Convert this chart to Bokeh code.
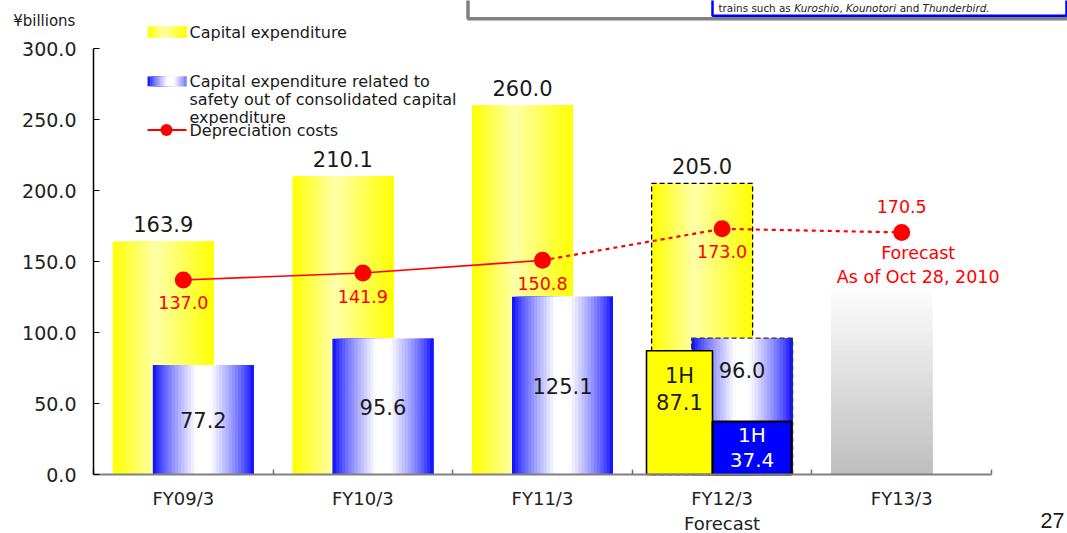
import numpy as np
from bokeh.plotting import figure
from bokeh.models import Range1d, FixedTicker
from bokeh.core.properties import value
from bokeh.embed import file_html
from bokeh.resources import INLINE

# ---------------- data ----------------
categories = ["FY09/3", "FY10/3", "FY11/3", "FY12/3", "FY13/3"]
category_labels = ["FY09/3", "FY10/3", "FY11/3", "FY12/3\nForecast", "FY13/3"]
capex = [163.9, 210.1, 260.0, 205.0]            # Capital expenditure (FY09/3 - FY12/3)
safety_capex = [77.2, 95.6, 125.1, 96.0]        # Safety-related capital expenditure
capex_1h = 87.1                                 # FY12/3 first half capex
safety_1h = 37.4                                # FY12/3 first half safety capex
depreciation = [137.0, 141.9, 150.8, 173.0, 170.5]
fy13_placeholder = 135.0                        # grey placeholder bar for FY13/3
y_ticks = [0, 50, 100, 150, 200, 250, 300]
y_tick_labels = ["0.0", "50.0", "100.0", "150.0", "200.0", "250.0", "300.0"]

# ---------------- layout helpers ----------------
W, H = 1067, 533
FL, FB = 93, 474          # y-axis / x-axis pixel positions
UX, UY = 179.6, 1.42      # pixels per category, pixels per unit


def X(px):
    return (px - FL) / UX


def Y(py):
    return (FB - py) / UY


def dx(px):
    return px / UX


def dy(px):
    return px / UY


FONT = "DejaVu Sans"
RED = "#ff0000"

p = figure(width=W, height=H, output_backend="svg", toolbar_location=None, title=None,
           x_range=Range1d(X(0), X(W)), y_range=Range1d(Y(H), Y(0)),
           min_border_left=0, min_border_right=0, min_border_top=0, min_border_bottom=0,
           outline_line_color=None, background_fill_color="white", border_fill_color="white")
p.xgrid.visible = False
p.ygrid.visible = False

# axes (drawn inside the frame at data 0)
centers = np.arange(len(categories)) + 0.5
xa = p.xaxis[0]
xa.fixed_location = 0
xa.ticker = FixedTicker(ticks=list(centers), minor_ticks=list(range(len(categories) + 1)))
xa.major_label_overrides = {float(c): lab for c, lab in zip(centers, category_labels)}
xa.bounds = (0, len(categories))
xa.major_tick_line_color = None
xa.major_tick_in = 0
xa.major_tick_out = 0
xa.minor_tick_in = 5
xa.minor_tick_out = 0
xa.minor_tick_line_color = "#707070"
xa.minor_tick_line_width = 1.5
xa.axis_line_color = "#808080"
xa.axis_line_width = 2
xa.major_label_text_font = FONT
xa.major_label_text_font_size = "18px"
xa.major_label_text_color = "#222222"
xa.major_label_standoff = 13

ya = p.yaxis[0]
ya.fixed_location = 0
ya.ticker = FixedTicker(ticks=y_ticks, minor_ticks=[])
ya.major_label_overrides = {t: lab for t, lab in zip(y_ticks, y_tick_labels)}
ya.bounds = (0, 300)
ya.axis_line_color = "black"
ya.axis_line_width = 1.5
ya.major_tick_in = 6
ya.major_tick_out = 0
ya.major_tick_line_color = "black"
ya.major_tick_line_width = 1.2
ya.minor_tick_line_color = None
ya.major_label_text_font = FONT
ya.major_label_text_font_size = "19px"
ya.major_label_text_color = "#222222"
ya.major_label_standoff = 17


# ---------------- colour ramps ----------------
def yellow_c(t):
    peak = 0.42
    l = 1 - (abs(t - peak) / (peak if t < peak else 1 - peak))
    b = int(round(170 * max(0.0, l) ** 1.0))
    return "#ffff%02x" % b


def blue_c(t):
    l = 1 - abs(t - 0.5) / 0.5
    w = int(round(255 * min(1.0, 1.12 * max(0.0, l) ** 0.75)))
    return "#%02x%02xff" % (w, w)


def hstrips(acc, left, right, bottom, top, cfn, n=32):
    for i in range(n):
        acc["left"].append(left + (right - left) * i / n)
        acc["right"].append(right)
        acc["bottom"].append(bottom)
        acc["top"].append(top)
        acc["color"].append(cfn((i + 0.5) / n))


def new_acc():
    return {"left": [], "right": [], "bottom": [], "top": [], "color": []}


BW = dx(101)
OFF = dx(20)

# capex bars (yellow)
yel = new_acc()
for i, v in enumerate(capex):
    c = centers[i] - OFF
    hstrips(yel, c - BW / 2, c + BW / 2, 0, v, yellow_c)
p.quad(left=yel["left"], right=yel["right"], bottom=yel["bottom"], top=yel["top"],
       fill_color=yel["color"], line_color=None)

# FY12/3 forecast outline (dashed)
i12 = 3
c12y = centers[i12] - OFF
p.quad(left=[c12y - BW / 2], right=[c12y + BW / 2], bottom=[0], top=[capex[i12]],
       fill_color=None, line_color="black", line_dash="5 3", line_width=1.3)

# safety bars (blue)
blu = new_acc()
for i, v in enumerate(safety_capex):
    c = centers[i] + OFF
    hstrips(blu, c - BW / 2, c + BW / 2, 0, v, blue_c)
p.quad(left=blu["left"], right=blu["right"], bottom=blu["bottom"], top=blu["top"],
       fill_color=blu["color"], line_color=None)
c12b = centers[i12] + OFF
p.quad(left=[c12b - BW / 2], right=[c12b + BW / 2], bottom=[0], top=[safety_capex[i12]],
       fill_color=None, line_color="#333333", line_dash="5 3", line_width=1.3)

# FY12/3 first-half boxes
p.quad(left=[centers[i12] - dx(75.6)], right=[centers[i12] - dx(9.6)], bottom=[0], top=[capex_1h],
       fill_color="#ffff00", line_color="black", line_width=1.6)
p.quad(left=[centers[i12] - dx(9.6)], right=[centers[i12] + dx(69.4)], bottom=[0], top=[safety_1h],
       fill_color="#0000ff", line_color="black", line_width=2)

# FY13/3 grey placeholder bar (vertical gradient)
n = 40
cg = centers[4] - OFF
gl, gr, gb, gt, gc = [], [], [], [], []
for i in range(n):
    gl.append(cg - BW / 2)
    gr.append(cg + BW / 2)
    gb.append(0)
    gt.append(fy13_placeholder * (1 - i / n))
    h = 1 - (i + 0.5) / n
    g = int(round(0xbe + (0xff - 0xbe) * h))
    gc.append("#%02x%02x%02x" % (g, g, g))
p.quad(left=gl, right=gr, bottom=gb, top=gt, fill_color=gc, line_color=None)

# depreciation line
p.line(centers[:3], depreciation[:3], line_color=RED, line_width=1.6)
p.line(centers[2:], depreciation[2:], line_color=RED, line_width=2.2, line_dash="4 4")
p.scatter(centers, depreciation, marker="circle", size=17, fill_color=RED, line_color=None)

# ---------------- value labels ----------------
p.text(x=[centers[i] - OFF for i in range(len(capex))], y=[v + dy(17.5) for v in capex],
       text=["%.1f" % v for v in capex], text_align="center", text_baseline="middle",
       text_font=value(FONT), text_font_size="21px", text_color="#1a1a1a")

sy = [v / 2 for v in safety_capex[:3]] + [safety_capex[3] - dy(32)]
p.text(x=[centers[i] + OFF for i in range(len(safety_capex))], y=sy,
       text=["%.1f" % v for v in safety_capex], text_align="center", text_baseline="middle",
       text_font=value(FONT), text_font_size="21px", text_color="#1a1a1a")

cy1 = centers[i12] - dx(42.6)
p.text(x=[cy1, cy1], y=[capex_1h - dy(25), capex_1h - dy(51)], text=["1H", "%.1f" % capex_1h],
       text_align="center", text_baseline="middle", text_font=value(FONT),
       text_font_size="21px", text_color="#1a1a1a")
cb1 = centers[i12] + dx(29.9)
p.text(x=[cb1, cb1], y=[safety_1h - dy(14), safety_1h - dy(39)], text=["1H", "%.1f" % safety_1h],
       text_align="center", text_baseline="middle", text_font=value(FONT),
       text_font_size="20px", text_color="white")

p.text(x=list(centers[:4]), y=[v - dy(23) for v in depreciation[:4]],
       text=["%.1f" % v for v in depreciation[:4]], text_align="center", text_baseline="middle",
       text_font=value(FONT), text_font_size="17.5px", text_color=RED)
p.text(x=[centers[4], centers[4] + dx(16.5), centers[4] + dx(16.5)],
       y=[depreciation[4] + dy(25.7), depreciation[4] - dy(21), depreciation[4] - dy(44.3)],
       text=["%.1f" % depreciation[4], "Forecast", "As of Oct 28, 2010"],
       text_align="center", text_baseline="middle",
       text_font=value(FONT), text_font_size="17.5px", text_color=RED)

# ---------------- legend ----------------
lg = new_acc()
hstrips(lg, X(147), X(186), Y(37.3), Y(26), yellow_c, n=16)
hstrips(lg, X(147), X(186), Y(85.7), Y(76), lambda t: blue_c(min(1.0, t * 0.85)), n=16)
p.quad(left=lg["left"], right=lg["right"], bottom=lg["bottom"], top=lg["top"],
       fill_color=lg["color"], line_color=None)
p.line([X(147), X(186)], [Y(129.5), Y(129.5)], line_color=RED, line_width=2)
p.scatter([X(166)], [Y(129.5)], marker="circle", size=12, fill_color=RED, line_color=None)
p.text(x=[X(189)] * 5, y=[Y(31.7), Y(81), Y(99), Y(116.5), Y(129.7)],
       text=["Capital expenditure", "Capital expenditure related to",
             "safety out of consolidated capital", "expenditure", "Depreciation costs"],
       text_align="left", text_baseline="middle", text_font=value(FONT),
       text_font_size="16px", text_color="#1a1a1a")

# ---------------- top-right note box ----------------
p.line([X(467.5), X(467.5), X(1080)], [Y(-5), Y(18.3), Y(18.3)], line_color="#808080", line_width=3.5)
p.line([X(712), X(712), X(1066), X(1066)], [Y(-5), Y(15.3), Y(15.3), Y(-5)],
       line_color="#0000ff", line_width=2.5)
pieces = ["trains such as", "Kuroshio", ",", "Kounotori", "and", "Thunderbird."]
styles = ["normal", "italic", "normal", "italic", "normal", "italic"]
starts = [718, 793.7, 839.0, 845.6, 899.2, 922.1]
for t, s, x0 in zip(pieces, styles, starts):
    p.text(x=[X(x0)], y=[Y(7)], text=[t], text_align="left", text_baseline="middle",
           text_font=value(FONT), text_font_size="10.4px", text_font_style=s,
           text_color="#222222")

# ---------------- unit label and page number ----------------
p.text(x=[X(12.7)], y=[Y(20)], text=["¥billions"], text_align="left", text_baseline="middle",
       text_font=value(FONT), text_font_size="15px", text_color="#1a1a1a")
p.text(x=[X(1052)], y=[Y(519.5)], text=["27"], text_align="center", text_baseline="middle",
       text_font=value("Liberation Sans"), text_font_size="21.5px", text_color="#1a1a1a")

open("out.html", "w").write(file_html(p, INLINE))
